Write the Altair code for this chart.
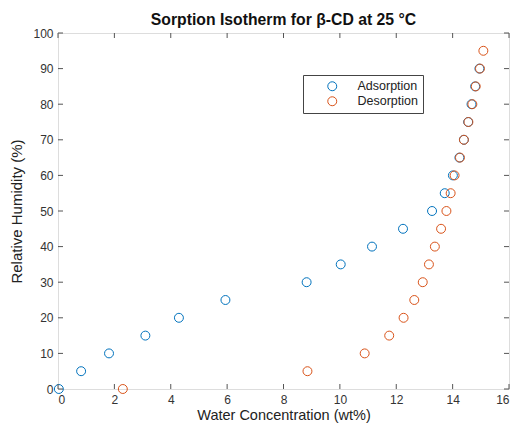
import altair as alt
import pandas as pd

# Adsorption branch
ads_rh = [0, 5, 10, 15, 20, 25, 30, 35, 40, 45, 50, 55, 60, 65, 70, 75, 80, 85, 90]
ads_wc = [0.03, 0.82, 1.81, 3.10, 4.29, 5.94, 8.82, 10.03, 11.14, 12.24, 13.27,
          13.72, 14.01, 14.24, 14.40, 14.55, 14.67, 14.80, 14.95]
# Desorption branch
des_rh = [0, 5, 10, 15, 20, 25, 30, 35, 40, 45, 50, 55, 60, 65, 70, 75, 80, 85, 90, 95]
des_wc = [2.30, 8.85, 10.88, 11.75, 12.26, 12.64, 12.94, 13.16, 13.37, 13.59, 13.78,
          13.93, 14.07, 14.26, 14.40, 14.56, 14.70, 14.82, 14.97, 15.09]

series_names = ["Adsorption", "Desorption"]
series_colors = ["#0072BD", "#D95319"]

x_ticks = [0, 2, 4, 6, 8, 10, 12, 14, 16]
y_ticks = [0, 10, 20, 30, 40, 50, 60, 70, 80, 90, 100]

W, H = 451, 356
FONT = "Liberation Sans"

df = pd.DataFrame(
    {"wc": ads_wc + des_wc,
     "rh": ads_rh + des_rh,
     "Series": [series_names[0]] * len(ads_wc) + [series_names[1]] * len(des_wc)}
)
xt = pd.DataFrame({"wc": x_ticks})
yt = pd.DataFrame({"rh": y_ticks})

xscale = alt.Scale(domain=[0, 16], nice=False, zero=False)
yscale = alt.Scale(domain=[0, 100], nice=False, zero=False)

x_axis = alt.Axis(title="Water Concentration (wt%)", values=x_ticks, tickCount=9,
                  grid=False, domain=False, ticks=False, labelOverlap=False,
                  labelPadding=5, labelFontSize=12, labelColor="#333",
                  labelFont=FONT, titleFont=FONT, titleFontSize=14.5,
                  titleFontWeight="normal", titleColor="#222", titlePadding=3)
y_axis = alt.Axis(title="Relative Humidity (%)", values=y_ticks, tickCount=11,
                  grid=False, domain=False, ticks=False, labelOverlap=False,
                  labelPadding=5, labelFontSize=12, labelColor="#333",
                  labelFont=FONT, titleFont=FONT, titleFontSize=15,
                  titleFontWeight="normal", titleColor="#222", titlePadding=8)

points = alt.Chart(df).mark_point(
    shape="circle", filled=False, size=80, strokeWidth=1, opacity=1, clip=False
).encode(
    x=alt.X("wc:Q", scale=xscale, axis=x_axis),
    y=alt.Y("rh:Q", scale=yscale, axis=y_axis),
    color=alt.Color("Series:N",
                    scale=alt.Scale(domain=series_names, range=series_colors),
                    legend=alt.Legend(title=None, orient="none", legendX=245, legendY=42,
                                      direction="vertical", strokeColor="#444",
                                      fillColor="white", padding=5, rowPadding=1,
                                      symbolSize=80, symbolStrokeWidth=1,
                                      symbolOffset=18, labelOffset=19,
                                      labelFont=FONT, labelFontSize=12.5,
                                      labelColor="#222")),
)

tick_color = "#555"
bottom = alt.Chart(xt).mark_rule(color=tick_color, strokeWidth=1).encode(
    x=alt.X("wc:Q", scale=xscale, axis=x_axis), y=alt.value(H), y2=alt.value(H - 5))
top = alt.Chart(xt).mark_rule(color=tick_color, strokeWidth=1).encode(
    x=alt.X("wc:Q", scale=xscale, axis=x_axis), y=alt.value(0), y2=alt.value(5))
left = alt.Chart(yt).mark_rule(color=tick_color, strokeWidth=1).encode(
    y=alt.Y("rh:Q", scale=yscale, axis=y_axis), x=alt.value(0), x2=alt.value(5))
right = alt.Chart(yt).mark_rule(color=tick_color, strokeWidth=1).encode(
    y=alt.Y("rh:Q", scale=yscale, axis=y_axis), x=alt.value(W), x2=alt.value(W - 5))

chart = alt.layer(points, bottom, top, left, right).properties(
    width=W, height=H,
    title=alt.TitleParams(text="Sorption Isotherm for β-CD at 25 °C", font=FONT,
                          fontSize=15.75, fontWeight="bold", color="#111",
                          anchor="middle", offset=-2),
    autosize=alt.AutoSizeParams(type="none"),
    padding={"left": 50, "top": 25, "right": 2, "bottom": 34},
).configure_view(stroke="#555", strokeWidth=1).configure(background="white")

chart.save("out.html", embed_options={"renderer": "svg", "actions": False})
